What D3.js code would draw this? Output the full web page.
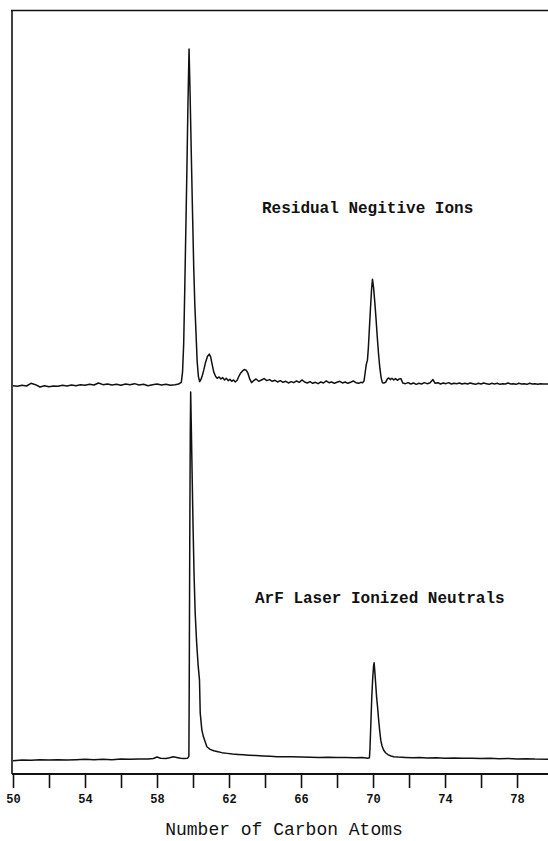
<!DOCTYPE html>
<html>
<head>
<meta charset="utf-8">
<script src="https://cdn.jsdelivr.net/npm/d3@7"></script>
<style>
  body { margin: 0; background: #fff; }
  text { font-family: "Liberation Mono", "DejaVu Sans Mono", monospace; fill: #111; }
</style>
</head>
<body>
<div id="chart-area"></div>
<script>
/*
*    carbon cluster spectra
*/

// tick positions and labels on the carbon axis
var tickValues = [50, 52, 54, 56, 58, 60, 62, 64, 66, 68, 70, 72, 74, 76, 78];
var tickLabels = [50, 54, 58, 62, 66, 70, 74, 78];

var topLabel = "Residual Negitive Ions";
var bottomLabel = "ArF Laser Ionized Neutrals";
var axisTitle = "Number of Carbon Atoms";

// upper trace: [carbon number, relative signal]
var residualIons = [
  [50.0,-0.2],[50.25,-0.4],[50.5,-0.1],[50.75,-0.3],[51.0,0.5],[51.25,0.1],[51.5,-0.6],[51.75,-0.2],
  [52.0,-0.5],[52.25,-0.3],[52.5,-0.4],[52.75,-0.1],[53.0,-0.3],[53.25,0.0],[53.5,-0.2],[53.75,0.1],
  [54.0,-0.1],[54.25,0.2],[54.5,0.0],[54.75,0.6],[55.0,0.1],[55.25,0.3],[55.5,0.0],[55.75,0.2],
  [56.0,-0.1],[56.25,0.3],[56.5,0.1],[56.75,0.4],[57.0,0.0],[57.25,0.2],[57.5,-0.2],[57.75,0.1],
  [58.0,0.3],[58.25,0.0],[58.5,0.2],[58.75,-0.1],[59.0,0.1],[59.2,0.3],
  [59.35,0.8],[59.42,4],[59.48,12],[59.54,28],[59.6,46],[59.66,64],[59.72,84],[59.78,100],
  [59.84,86],[59.9,70],[59.97,52],[60.04,35],[60.1,24],[60.17,15],[60.23,7],[60.3,2.5],
  [60.37,1.0],[60.43,1.5],[60.5,2.5],[60.6,4.5],[60.7,6.8],[60.8,8.5],[60.9,9.2],[60.98,8.4],
  [61.06,6.2],[61.15,3.9],[61.25,2.6],[61.34,2.0],[61.45,2.4],[61.55,1.8],[61.65,2.2],[61.75,1.5],
  [61.85,2.0],[61.95,1.3],[62.05,1.7],[62.15,1.1],[62.25,1.5],[62.35,0.9],[62.45,1.4],[62.55,2.6],
  [62.65,3.6],[62.75,4.2],[62.85,4.6],[62.95,4.4],[63.05,3.5],[63.15,1.8],[63.25,0.7],[63.35,1.2],
  [63.5,1.8],[63.65,1.1],[63.8,1.5],[63.95,1.9],[64.1,1.3],[64.25,1.6],[64.4,1.1],[64.55,1.4],
  [64.7,0.9],[64.85,1.3],[65.0,0.8],[65.15,1.1],[65.3,0.6],[65.45,1.0],[65.6,0.7],[65.75,1.2],
  [65.9,0.8],[66.05,1.5],[66.2,0.9],[66.35,0.6],[66.5,1.0],[66.65,0.5],[66.8,0.8],[66.95,0.4],
  [67.1,0.9],[67.25,0.6],[67.4,1.2],[67.55,0.7],[67.7,0.9],[67.85,0.5],[68.0,0.8],[68.15,1.1],
  [68.3,0.6],[68.45,0.9],[68.6,0.5],[68.75,0.8],[68.9,1.2],[69.05,0.7],[69.2,0.5],[69.32,0.8],
  [69.42,0.7],[69.5,1.2],[69.56,3.5],[69.62,6.0],[69.69,7.4],[69.74,11],[69.8,17],[69.86,23],
  [69.92,28.5],[69.97,31.5],[70.03,29],[70.1,24.5],[70.17,19.5],[70.24,14],[70.31,9],[70.38,5],
  [70.45,2.2],[70.52,0.7],[70.6,0.6],[70.7,0.8],[70.8,1.8],[70.88,2.1],[70.96,1.6],[71.05,2.0],
  [71.15,1.5],[71.25,1.9],[71.35,1.4],[71.45,1.8],[71.55,1.9],[71.65,0.6],[71.8,0.4],[71.95,0.7],
  [72.1,0.3],[72.25,0.6],[72.4,0.2],[72.55,0.5],[72.7,0.3],[72.85,0.7],[73.0,0.4],[73.15,0.6],
  [73.33,1.6],[73.45,0.5],[73.6,0.7],[73.75,0.3],[73.9,0.6],[74.05,0.4],[74.2,0.7],[74.35,0.3],
  [74.5,0.5],[74.65,0.4],[74.8,0.6],[74.95,0.3],[75.1,0.5],[75.25,0.3],[75.4,0.6],[75.55,0.4],
  [75.7,0.2],[75.85,0.5],[76.0,0.3],[76.15,0.6],[76.3,0.4],[76.45,0.2],[76.6,0.5],[76.75,0.3],
  [76.9,0.5],[77.05,0.2],[77.2,0.4],[77.35,0.3],[77.5,0.6],[77.65,0.3],[77.8,0.4],[77.95,0.2],
  [78.1,0.5],[78.25,0.3],[78.4,0.4],[78.55,0.2],[78.7,0.5],[78.85,0.3],[79.0,0.4],[79.15,0.2],
  [79.3,0.4],[79.45,0.3],[79.72,0.3]
];

// lower trace: [carbon number, relative signal]
var arfNeutrals = [
  [50.0,-0.2],[50.5,0.0],[51.0,-0.1],[51.5,0.1],[52.0,0.0],[52.5,0.1],[53.0,0.0],[53.5,0.1],
  [54.0,0.2],[54.5,0.1],[55.0,0.2],[55.5,0.1],[56.0,0.3],[56.5,0.2],[57.0,0.3],[57.5,0.3],
  [57.8,0.4],[58.0,0.8],[58.2,0.5],[58.5,0.4],[58.7,0.6],[58.9,0.9],[59.1,0.7],[59.3,0.5],
  [59.5,0.4],[59.7,0.5],[59.77,1.0],[59.79,20],[59.82,60],[59.85,90],[59.87,100],[59.9,92],
  [59.95,78],[60.0,64],[60.06,50],[60.12,40],[60.2,32],[60.28,26],[60.36,21.7],[60.4,12.8],
  [60.49,8.2],[60.58,6.3],[60.67,5.0],[60.77,3.6],[60.95,2.9],[61.15,2.5],[61.33,2.3],[61.6,2.0],
  [61.9,1.8],[62.2,1.6],[62.5,1.5],[62.79,1.4],[63.1,1.3],[63.5,1.2],[63.9,1.1],[64.3,1.0],
  [64.67,0.9],[65.0,0.9],[65.5,0.85],[66.0,0.8],[66.53,0.73],[67.0,0.7],[67.5,0.75],[68.0,0.65],
  [68.5,0.7],[69.0,0.6],[69.4,0.65],[69.7,0.5],[69.8,0.6],[69.83,3],[69.88,10],[69.93,17],
  [69.98,22],[70.03,25.5],[70.06,26.4],[70.1,24],[70.15,20.5],[70.2,17],[70.25,14.5],[70.31,11],
  [70.37,8],[70.43,5.4],[70.5,3.8],[70.6,2.6],[70.71,1.9],[70.85,1.4],[71.0,1.1],[71.15,0.9],
  [71.4,0.8],[71.8,0.7],[72.2,0.6],[72.6,0.65],[73.0,0.55],[73.5,0.6],[74.0,0.5],[74.5,0.55],
  [75.0,0.45],[75.5,0.5],[76.0,0.4],[76.5,0.45],[77.0,0.35],[77.5,0.4],[78.0,0.3],[78.5,0.35],
  [79.0,0.25],[79.72,0.2]
];

var w = 548;
var h = 841;

var svg = d3.select("#chart-area").append("svg")
  .attr("width", w)
  .attr("height", h);

var x = d3.scaleLinear()
  .domain([50, 79.72])
  .range([13, 548]);

var yTop = d3.scaleLinear()
  .domain([0, 100])
  .range([385, 49]);

var yBottom = d3.scaleLinear()
  .domain([0, 100])
  .range([760, 392]);

var axisY = 774;

// frame: top edge and left edge
svg.append("line")
  .attr("x1", 11).attr("x2", w)
  .attr("y1", 10.5).attr("y2", 10.5)
  .attr("stroke", "#111").attr("stroke-width", 1.6);

svg.append("line")
  .attr("x1", 12).attr("x2", 12)
  .attr("y1", 10).attr("y2", axisY)
  .attr("stroke", "#111").attr("stroke-width", 1.6);

var bottom = d3.axisBottom(x)
  .tickValues(tickValues)
  .tickSize(14)
  .tickSizeOuter(0)
  .tickFormat(function(d) { return tickLabels.indexOf(d) >= 0 ? d : ""; });

var x_group = svg.append("g")
  .attr("transform", "translate(0, " + axisY + ")")
  .call(bottom);

x_group.select(".domain")
  .attr("d", "M12,0H" + w)
  .attr("stroke", "#111")
  .attr("stroke-width", 2);

x_group.selectAll(".tick line")
  .attr("stroke", "#111")
  .attr("stroke-width", 1.6);

x_group.selectAll(".tick text")
  .attr("y", 29)
  .attr("dy", 0)
  .attr("font-size", "12px")
  .attr("font-weight", "bold")
  .attr("font-family", "Liberation Mono, monospace")
  .attr("fill", "#111");

var lineTop = d3.line()
  .x(function(d) { return x(d[0]); })
  .y(function(d) { return yTop(d[1]); });

var lineBottom = d3.line()
  .x(function(d) { return x(d[0]); })
  .y(function(d) { return yBottom(d[1]); });

svg.append("path")
  .datum(residualIons)
  .attr("d", lineTop)
  .attr("fill", "none")
  .attr("stroke", "#111")
  .attr("stroke-width", 1.5)
  .attr("stroke-linejoin", "round");

svg.append("path")
  .datum(arfNeutrals)
  .attr("d", lineBottom)
  .attr("fill", "none")
  .attr("stroke", "#111")
  .attr("stroke-width", 1.5)
  .attr("stroke-linejoin", "round");

svg.append("text")
  .attr("x", 262)
  .attr("y", 213)
  .attr("font-size", "16px")
  .attr("font-weight", "bold")
  .text(topLabel);

svg.append("text")
  .attr("x", 255)
  .attr("y", 603)
  .attr("font-size", "16px")
  .attr("font-weight", "bold")
  .text(bottomLabel);

svg.append("text")
  .attr("x", 284)
  .attr("y", 835)
  .attr("font-size", "18px")
  .attr("text-anchor", "middle")
  .text(axisTitle);
</script>
</body>
</html>
